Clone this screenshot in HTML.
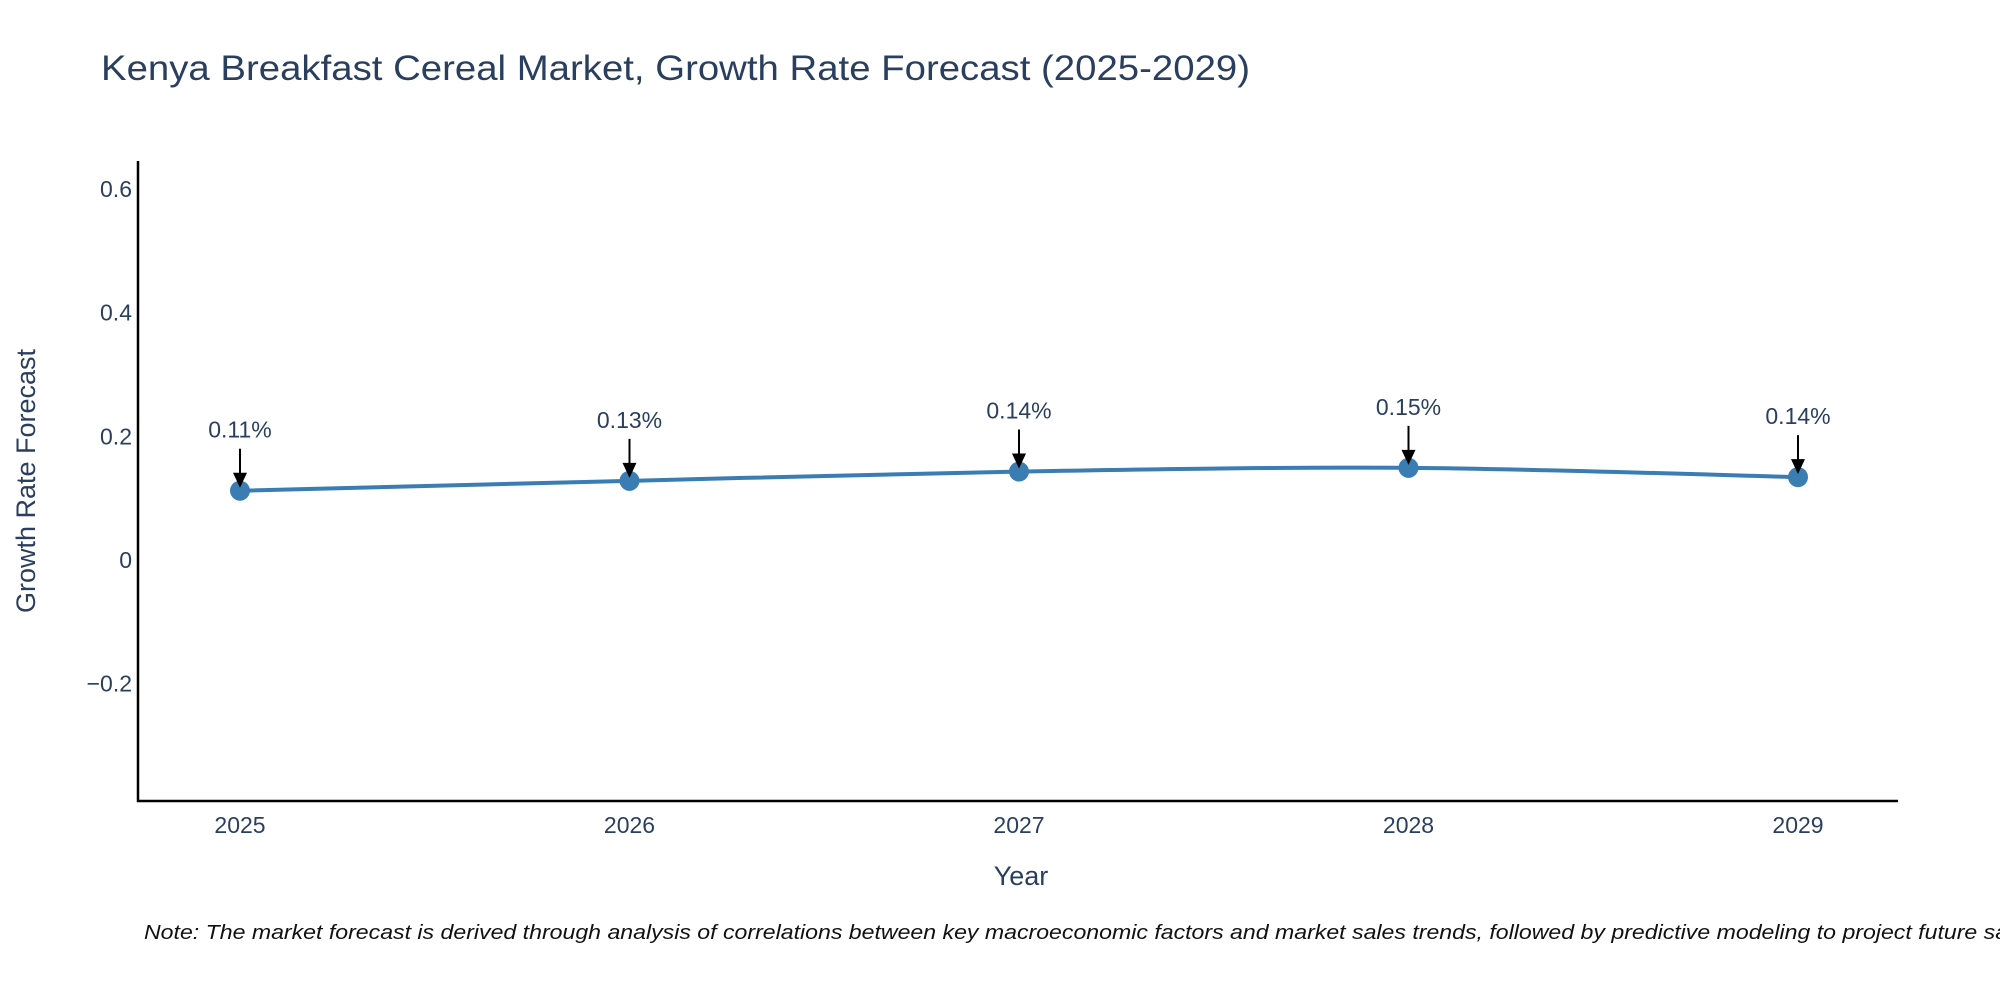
<!DOCTYPE html>
<html><head><meta charset="utf-8"><style>
html,body{margin:0;padding:0;background:#fff;width:2000px;height:1000px;overflow:hidden}
svg{display:block;font-family:"Liberation Sans","DejaVu Sans",sans-serif}
</style></head><body>
<svg id="chart" width="2000" height="1000" viewBox="0 0 2000 1000">
<text x="101" y="80" font-size="35" fill="#2a3f5f" textLength="1149" lengthAdjust="spacingAndGlyphs">Kenya Breakfast Cereal Market, Growth Rate Forecast (2025-2029)</text>
<g id="yticks"></g>
<g id="xticks"></g>
<line x1="138" y1="161" x2="138" y2="802" stroke="#000" stroke-width="2.5"/>
<line x1="137" y1="801" x2="1898" y2="801" stroke="#000" stroke-width="2.5"/>
<g id="series"></g>
<g id="annos"></g>
<text transform="translate(35,481) rotate(-90)" text-anchor="middle" font-size="27" fill="#2a3f5f">Growth Rate Forecast</text>
<text x="1021" y="885" text-anchor="middle" font-size="27" fill="#2a3f5f">Year</text>
<text x="144" y="939" font-size="20" font-style="italic" fill="#111" textLength="1900" lengthAdjust="spacingAndGlyphs">Note: The market forecast is derived through analysis of correlations between key macroeconomic factors and market sales trends, followed by predictive modeling to project future sales.</text>
</svg>
<script>
const years = [2025, 2026, 2027, 2028, 2029];
const growth = [0.112, 0.128, 0.143, 0.149, 0.134];
const labels = ["0.11%", "0.13%", "0.14%", "0.15%", "0.14%"];
const yTickVals = [-0.2, 0, 0.2, 0.4, 0.6];
const yTickLabels = ["\u22120.2", "0", "0.2", "0.4", "0.6"];

const NS = "http://www.w3.org/2000/svg";
function xS(i){ return 240 + i * (1798 - 240) / (years.length - 1); }
function yS(v){ return 560 - v * 618.5; }
function mk(tag, attrs, parent){ const e = document.createElementNS(NS, tag); for (const k in attrs) e.setAttribute(k, attrs[k]); parent.appendChild(e); return e; }

const yt = document.getElementById('yticks');
yTickVals.forEach((v, i) => {
  const t = mk('text', {x: 132, y: yS(v) + 8, 'text-anchor': 'end', 'font-size': 23, fill: '#2a3f5f'}, yt);
  
  
  t.textContent = yTickLabels[i];
});
const xt = document.getElementById('xticks');
years.forEach((y, i) => {
  const t = mk('text', {x: xS(i), y: 833, 'text-anchor': 'middle', 'font-size': 23, fill: '#2a3f5f'}, xt);
  
  
  t.textContent = y;
});

const pts = growth.map((v, i) => [xS(i), yS(v)]);
let d = 'M' + pts[0][0] + ',' + pts[0][1];
for (let i = 0; i < pts.length - 1; i++) {
  const p0 = pts[Math.max(0, i - 1)], p1 = pts[i], p2 = pts[i + 1], p3 = pts[Math.min(pts.length - 1, i + 2)];
  const c1 = [p1[0] + (p2[0] - p0[0]) / 6, p1[1] + (p2[1] - p0[1]) / 6];
  const c2 = [p2[0] - (p3[0] - p1[0]) / 6, p2[1] - (p3[1] - p1[1]) / 6];
  d += ' C' + c1 + ' ' + c2 + ' ' + p2;
}
const s = document.getElementById('series');
const line = mk('path', {d: d, fill: 'none', stroke: '#3a7db3', 'stroke-width': 4}, s);


pts.forEach(p => {
  const c = mk('circle', {cx: p[0], cy: p[1], r: 10, fill: '#3a7db3'}, s);
  
  
});

const a = document.getElementById('annos');
pts.forEach((p, i) => {
  const top = p[1] - 42;
  const l = mk('line', {x1: p[0], y1: top, x2: p[0], y2: p[1] - 16, stroke: '#000', 'stroke-width': 2}, a);
  
  
  const h = mk('polygon', {points: (p[0]-7)+','+(p[1]-18)+' '+(p[0]+7)+','+(p[1]-18)+' '+p[0]+','+(p[1]-3), fill: '#000'}, a);
  
  
  const t = mk('text', {x: p[0], y: top - 11, 'text-anchor': 'middle', 'font-size': 23, fill: '#2a3f5f'}, a);
  
  
  t.textContent = labels[i];
});
</script>
</body></html>
